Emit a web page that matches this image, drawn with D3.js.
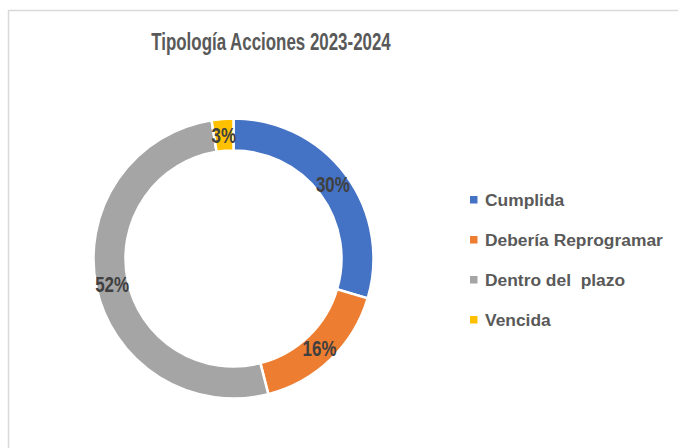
<!DOCTYPE html>
<html>
<head>
<meta charset="utf-8">
<script src="https://cdn.jsdelivr.net/npm/d3@7"></script>
<style>
  body { margin: 0; background: #fff; }
  svg { display: block; }
  text { white-space: pre; }
</style>
</head>
<body>
<svg width="678" height="448"></svg>
<script>
// Data
var categories = ["Cumplida", "Debería Reprogramar", "Dentro del  plazo", "Vencida"];
var values = [29.6, 16.4, 51.5, 2.5];
var colors = ["#4472c4", "#ed7d31", "#a5a5a5", "#ffc000"];
var title = "Tipología Acciones 2023-2024";

var svg = d3.select("svg"),
  width = +svg.attr("width"),
  height = +svg.attr("height");

// no narrow font installed, so squeeze a normal one
var font = "'Liberation Sans', Arial, sans-serif";

// chart border
svg.append("path")
  .attr("d", "M8.5,448 L8.5,10.5 L678,10.5")
  .attr("fill", "none")
  .attr("stroke", "#d9d9d9")
  .attr("stroke-width", 1.5);

svg.append("text")
  .attr("transform", "translate(271,50) scale(0.735,1)")
  .attr("text-anchor", "middle")
  .attr("font-family", font)
  .attr("font-size", 23)
  .attr("font-weight", "bold")
  .attr("fill", "#595959")
  .text(title);

var cx = 233.5, cy = 258.5, outerR = 140, innerR = 108;

var pie = d3.pie().sort(null).value((d) => d.value);
var arc = d3.arc().innerRadius(innerR).outerRadius(outerR);
var labelArc = d3.arc().innerRadius(124).outerRadius(124);

var data = categories.map((c, i) => ({ name: c, value: values[i], color: colors[i] }));
var total = d3.sum(values);

const g = svg.append("g").attr("transform", `translate(${cx},${cy})`);

g.selectAll("path")
  .data(pie(data))
  .enter()
  .append("path")
  .attr("d", arc)
  .attr("fill", (d) => d.data.color)
  .attr("stroke", "#fff")
  .attr("stroke-width", 2.5);

g.selectAll("text")
  .data(pie(data))
  .enter()
  .append("text")
  .attr("transform", (d) => `translate(${labelArc.centroid(d)}) scale(0.77,1)`)
  .attr("text-anchor", "middle")
  .attr("dy", "0.36em")
  .attr("font-family", font)
  .attr("font-size", 22)
  .attr("font-weight", "bold")
  .attr("fill", "#404040")
  .text((d) => Math.round((d.data.value / total) * 100) + "%");

// legend
var legend = svg.append("g").attr("transform", "translate(470,200)");
var rows = legend.selectAll("g")
  .data(data)
  .enter()
  .append("g")
  .attr("transform", (d, i) => `translate(0,${i * 40})`);

rows.append("rect")
  .attr("x", 0)
  .attr("y", -4)
  .attr("width", 7.5)
  .attr("height", 7.5)
  .attr("fill", (d) => d.color);

rows.append("text")
  .attr("x", 15)
  .attr("dy", "0.36em")
  .attr("font-family", font)
  .attr("font-size", 17.4)
  .attr("font-weight", "bold")
  .attr("fill", "#595959")
  .text((d) => d.name);
</script>
</body>
</html>
